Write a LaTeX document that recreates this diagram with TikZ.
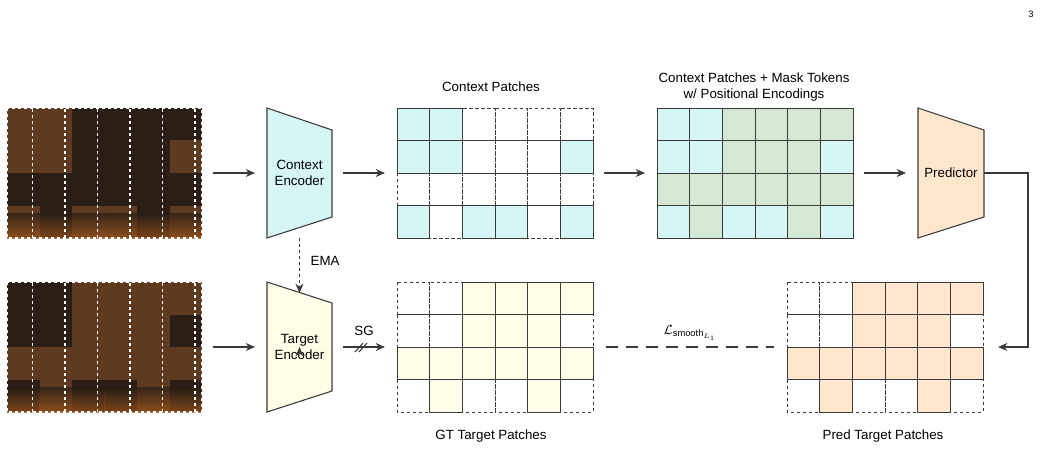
\documentclass[tikz,border=0pt]{standalone}
\usepackage{fontspec}
\setmainfont{Liberation Sans}
\usepackage{amsmath}
\usetikzlibrary{arrows.meta}
\definecolor{cy}{HTML}{D6F6F6}
\definecolor{gr}{HTML}{D5E8D4}
\definecolor{ye}{HTML}{FFFDE8}
\definecolor{orp}{HTML}{FFE6CC}
\definecolor{ln}{HTML}{3A3A3A}
\definecolor{spd}{HTML}{2A1E16}
\definecolor{spm}{HTML}{5E3A20}
\definecolor{spo}{HTML}{A0561C}
\tikzset{
  conn/.style={draw=ln, line width=0.9pt, -{Stealth[length=7pt,width=6pt]}},
  enc/.style={draw=ln, line width=0.8pt},
  cellsolid/.style={draw=ln, line width=0.7pt},
  celldash/.style={draw=ln, line width=0.7pt, dash pattern=on 2.5pt off 2pt},
  lbl/.style={font=\fontsize{10}{12}\selectfont, text=black, align=center},
}
\begin{document}
\begin{tikzpicture}[x=0.75pt,y=-0.75pt]
\useasboundingbox (0,0) rectangle (1041,449);
\node[font=\fontsize{7}{8}\selectfont\rmfamily] (pg) at (1031,14) {3};
% ---- spectrograms
\newcommand{\specgrid}[3]{% x0, y0, list of col/row/colour
  \foreach \c/\r/\k in {#3}{
    \fill[\k] ({#1+\c*32.5},{#2+\r*32.5}) rectangle ++(32.5,32.5);
  }
  \foreach \c in {0,...,5}{
    \shade[top color=spd, bottom color=spo, opacity=0.7] ({#1+\c*32.5},{#2+97.5+8}) rectangle ++(32.5,24.5);
  }
  \draw[white, line width=0.8pt, dash pattern=on 2.5pt off 2pt] (#1,#2) grid[xstep=32.5,ystep=32.5] ({#1+195},{#2+130});
  \draw[white, line width=0.8pt, dash pattern=on 2.5pt off 2pt] (#1,#2) rectangle ({#1+195},{#2+130});
}
\specgrid{7}{108}{0/0/spm,1/0/spm,2/0/spd,3/0/spd,4/0/spd,5/0/spd,0/1/spm,1/1/spm,2/1/spd,3/1/spd,4/1/spd,5/1/spm,0/2/spd,1/2/spd,2/2/spd,3/2/spd,4/2/spd,5/2/spd,0/3/spm,1/3/spd,2/3/spm,3/3/spm,4/3/spd,5/3/spm}
\specgrid{7}{282}{0/0/spd,1/0/spd,2/0/spm,3/0/spm,4/0/spm,5/0/spm,0/1/spd,1/1/spd,2/1/spm,3/1/spm,4/1/spm,5/1/spd,0/2/spm,1/2/spm,2/2/spm,3/2/spm,4/2/spm,5/2/spm,0/3/spd,1/3/spm,2/3/spd,3/3/spd,4/3/spm,5/3/spd}
\coordinate (s1) at (202,173);
\coordinate (s2) at (202,347);
% ---- encoders
\fill[cy] (267,108) -- (332,130) -- (332,217) -- (267,238) -- cycle;
\draw[enc] (267,108) -- (332,130) -- (332,217) -- (267,238) -- cycle;
\node[lbl] (ce) at (299.5,173) {Context\\Encoder};
\fill[ye] (267,282) -- (332,303) -- (332,391) -- (267,412) -- cycle;
\draw[enc] (267,282) -- (332,303) -- (332,391) -- (267,412) -- cycle;
\node[lbl] (te) at (299.5,347) {Target\\Encoder};
\fill[orp] (918,108) -- (984,130) -- (984,217) -- (918,238) -- cycle;
\draw[enc] (918,108) -- (984,130) -- (984,217) -- (918,238) -- cycle;
\node[lbl] (pr) at (951,173) {Predictor};
% ---- grids
\newcommand{\patchgrid}[4]{% x0,y0,colour,filled list col/row
  \foreach \c in {0,...,5}{\foreach \r in {0,...,3}{
    \draw[celldash] ({#1+\c*32.67},{#2+\r*32.5}) rectangle ++(32.67,32.5);}}
  \foreach \c/\r in {#4}{
    \draw[cellsolid, fill=#3] ({#1+\c*32.67},{#2+\r*32.5}) rectangle ++(32.67,32.5);}
}
\patchgrid{397}{108}{cy}{0/0,1/0,0/1,1/1,5/1,0/3,2/3,3/3,5/3}
\patchgrid{657}{108}{gr}{0/0,1/0,2/0,3/0,4/0,5/0,0/1,1/1,2/1,3/1,4/1,5/1,0/2,1/2,2/2,3/2,4/2,5/2,0/3,1/3,2/3,3/3,4/3,5/3}
\patchgrid{657}{108}{cy}{0/0,1/0,0/1,1/1,5/1,0/3,2/3,3/3,5/3}
\patchgrid{397}{282}{ye}{2/0,3/0,4/0,5/0,2/1,3/1,4/1,0/2,1/2,2/2,3/2,4/2,5/2,1/3,4/3}
\patchgrid{787}{282}{orp}{2/0,3/0,4/0,5/0,2/1,3/1,4/1,0/2,1/2,2/2,3/2,4/2,5/2,1/3,4/3}
\coordinate (cpL) at (397,173); \coordinate (cpR) at (593,173);
\coordinate (mpL) at (657,173); \coordinate (mpR) at (853,173);
\coordinate (gtL) at (397,347); \coordinate (gtR) at (593,347);
\coordinate (ptL) at (787,347); \coordinate (ptR) at (983,347);
% ---- titles
\node[lbl] (t1) at (491,87) {Context Patches};
\node[lbl] (t2) at (754,87) {Context Patches + Mask Tokens\\w/ Positional Encodings};
\node[lbl] (t3) at (491,436) {GT Target Patches};
\node[lbl] (t4) at (883,436) {Pred Target Patches};
% ---- connectors
\draw[conn] ([xshift=8pt]s1) -- (255,173);
\draw[conn] ([xshift=8pt]s2) -- (255,347);
\draw[conn] (332,173) ++(8pt,0) -- ([xshift=-9pt]cpL);
\draw[conn] ([xshift=8pt]cpR) -- ([xshift=-9pt]mpL);
\draw[conn] ([xshift=8pt]mpR) -- (906,173);
\draw[conn] (984,173) -- (1028,173) -- (1028,347) -- (998,347);
\draw[conn] (299.5,347) ++(0,0);
\coordinate (emaA) at (299.5,238); \coordinate (emaB) at (299.5,293);
\draw[conn, line width=0.7pt, dash pattern=on 2.5pt off 2pt] (emaA) -- (emaB);
\node[lbl, anchor=west] (ema) at (306,261) {EMA};
\draw[conn] (332,347) ++(8pt,0) coordinate (sgA) -- ([xshift=-9pt]gtL);
\draw[ln, line width=0.8pt] (355,352) -- (363,343) (359,352) -- (367,343);
\node[lbl] (sg) at (364,331) {SG};
\draw[ln, line width=0.9pt, dash pattern=on 9pt off 6pt] ([xshift=10pt]gtR) -- ([xshift=-10pt]ptL);
\node[lbl] (loss) at (690,333) {$\mathcal{L}_{\text{smooth}_{L_1}}$};
\end{tikzpicture}
\end{document}
